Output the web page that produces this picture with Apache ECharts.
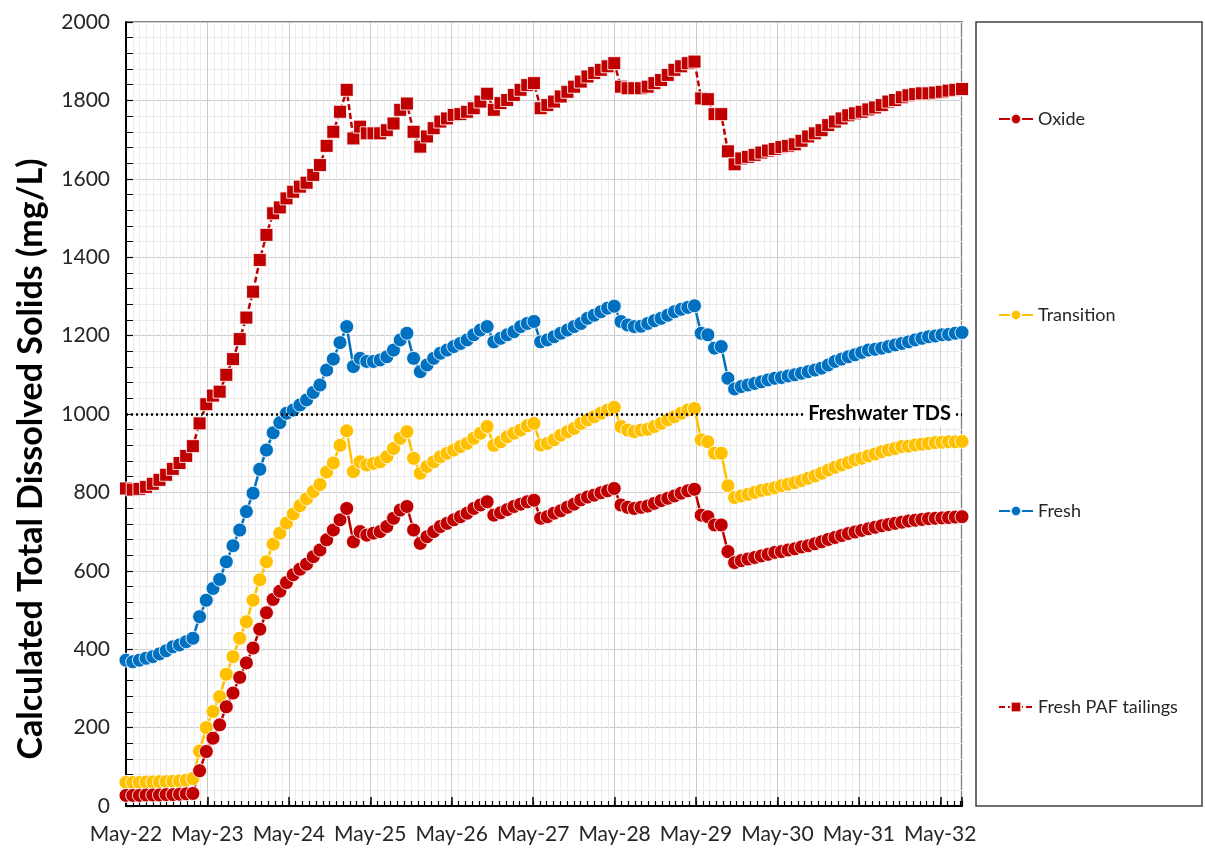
<!DOCTYPE html>
<html>
<head>
<meta charset="utf-8">
<script src="https://cdn.jsdelivr.net/npm/echarts@6/dist/echarts.min.js"></script>
<style>
html,body{margin:0;padding:0;background:#fff;}
#chart{width:1205px;height:854px;}
</style>
</head>
<body>
<div id="chart"></div>
<script>
// ---------------- data ----------------
const seriesNames = ['Oxide', 'Transition', 'Fresh', 'Fresh PAF tailings'];
const xTickLabels = ['May-22','May-23','May-24','May-25','May-26','May-27','May-28','May-29','May-30','May-31','May-32'];
const dayStep = 30;            // model output every 30 days, starting May-22
const freshwaterTDS = 1000;    // reference line (mg/L)

const oxide = [
  27,27,27,28,28,28,29,29,30,31,32,
  90,139,173,207,253,288,328,365,403,451,493,527,548,570,590,604,617,636,653,679,704,730,759,
  674,700,691,696,700,713,734,755,764,704,670,687,700,713,721,730,738,747,759,768,776,
  742,748,756,764,770,776,780,
  734,738,747,753,762,770,781,788,793,799,804,810,
  768,762,759,762,765,772,779,785,791,798,804,808,
  742,738,717,717,649,621,
  626,630,634,638,642,647,649,653,656,661,664,669,674,680,685,690,695,699,703,707,
  711,715,718,721,724,727,729,731,733,734,735,736,737,738
];
const transition = [
  60,60,60,61,61,62,62,63,64,66,70,
  140,200,241,279,336,381,428,470,525,577,623,668,696,722,745,766,784,802,820,852,875,920,957,
  853,878,870,874,878,891,912,938,955,887,849,866,878,891,900,908,917,925,938,951,968,
  920,929,942,951,959,970,976,
  921,925,934,946,955,963,976,985,993,1002,1010,1017,
  968,959,955,959,961,968,976,985,993,1002,1010,1014,
  934,929,900,900,817,787,
  791,795,800,805,808,812,817,821,825,830,836,842,849,857,864,870,876,883,887,893,
  898,904,908,912,917,918,921,923,925,927,928,929,929,930
];
const fresh = [
  372,368,372,377,381,388,396,406,411,419,428,
  483,525,555,578,623,664,704,751,798,859,908,952,978,1002,1010,1023,1036,1055,1074,1112,1140,1182,1223,
  1121,1142,1134,1134,1138,1146,1163,1189,1206,1142,1108,1125,1142,1155,1163,1172,1180,1189,1202,1214,1223,
  1184,1193,1202,1210,1223,1231,1236,
  1184,1189,1197,1206,1214,1223,1231,1244,1252,1261,1270,1275,
  1236,1227,1223,1224,1231,1238,1244,1252,1261,1267,1272,1276,
  1206,1202,1168,1172,1091,1064,
  1070,1074,1078,1082,1087,1091,1093,1097,1100,1104,1108,1112,1117,1125,1134,1140,1146,1151,1157,1163,
  1165,1168,1172,1176,1180,1184,1189,1193,1197,1199,1202,1203,1206,1208
];
const pafTailings = [
  810,807,809,814,822,832,845,860,875,893,918,
  976,1025,1047,1057,1100,1140,1191,1246,1312,1393,1457,1512,1527,1550,1567,1580,1590,1610,1635,1684,1720,1771,1827,
  1703,1733,1716,1716,1716,1724,1741,1776,1792,1720,1682,1708,1729,1746,1754,1763,1765,1771,1780,1797,1817,
  1776,1793,1801,1814,1827,1839,1844,
  1780,1788,1797,1810,1822,1835,1848,1861,1870,1878,1887,1895,
  1835,1831,1831,1831,1835,1844,1852,1865,1878,1887,1895,1899,
  1805,1803,1765,1765,1670,1637,
  1652,1656,1661,1667,1672,1676,1681,1684,1688,1697,1708,1716,1724,1737,1746,1754,1762,1767,1771,1777,
  1782,1788,1797,1801,1808,1813,1816,1818,1818,1820,1822,1825,1827,1829
];

// ---------------- build ----------------
const FONT = 'Lato, "Open Sans", "Noto Sans", sans-serif';
const MONTH = 365.25 / 12;
const days = oxide.map((_, i) => i * dayStep);
const pairs = arr => arr.map((v, i) => [days[i], v]);
const xMax = days[days.length - 1];

const monthLineColors = ['#cccccc'].concat(new Array(11).fill('#ebebeb'));

function lineSeries(name, data, color, symbol, size, dashed, z) {
  return {
    name: name, type: 'line', data: pairs(data),
    symbol: symbol, symbolSize: size, showSymbol: true, clip: false,
    itemStyle: { color: color, borderColor: 'rgba(255,255,255,0.85)', borderWidth: 1 },
    lineStyle: { color: color, width: 2.5, type: dashed ? [6, 3] : 'solid' },
    emphasis: { disabled: true },
    z: z, animation: false
  };
}

const chart = echarts.init(document.getElementById('chart'), null, { renderer: 'canvas' });
chart.setOption({
  animation: false,
  backgroundColor: '#ffffff',
  textStyle: { fontFamily: FONT },
  grid: { left: 126, right: 243, top: 22, bottom: 48, show: true, borderColor: '#595959', borderWidth: 1.5, outerBoundsMode: 'none' },
  legend: {
    data: seriesNames,
    orient: 'vertical', left: 993, top: 104,
    itemWidth: 34, itemHeight: 13, itemGap: 176,
    textStyle: { fontSize: 18, color: '#262626', fontFamily: FONT, lineHeight: 20 },
    selectedMode: false
  },
  graphic: [{
    type: 'rect', silent: true, z: -10,
    shape: { x: 976, y: 22, width: 226, height: 784 },
    style: { fill: 'none', stroke: '#404040', lineWidth: 1.5 }
  }],
  xAxis: [{
    type: 'value', min: 0, max: xMax, interval: MONTH,
    axisLine: { show: true, onZero: false, lineStyle: { color: '#000', width: 2 } },
    axisTick: { show: true, inside: true, length: 5, lineStyle: { color: '#000', width: 1.2 } },
    axisLabel: {
      fontSize: 21, color: '#262626', margin: 18, fontFamily: FONT,
      formatter: function (v) {
        const m = Math.round(v / MONTH);
        if (Math.abs(v - m * MONTH) > 0.5 || m % 12 !== 0) return '';
        return xTickLabels[m / 12] || '';
      }
    },
    splitLine: { show: true, lineStyle: { color: monthLineColors, width: 1 } }
  }, {
    type: 'value', min: 0, max: xMax, interval: 365.25, position: 'bottom',
    axisLine: { show: false },
    axisTick: { show: true, inside: true, length: 9, lineStyle: { color: '#000', width: 1.5 } },
    axisLabel: { show: false },
    splitLine: { show: false }
  }],
  yAxis: {
    type: 'value', min: 0, max: 2000, interval: 200,
    axisLine: { show: true, lineStyle: { color: '#000', width: 2 } },
    axisTick: { show: true, inside: true, length: 7, lineStyle: { color: '#000', width: 1.2 } },
    minorTick: { show: true, splitNumber: 5, length: 7, lineStyle: { color: '#000', width: 1 } },
    splitLine: { show: true, lineStyle: { color: '#cccccc', width: 1 } },
    minorSplitLine: { show: true, lineStyle: { color: '#ebebeb', width: 1 } },
    axisLabel: { fontSize: 21, color: '#262626', margin: 16, fontFamily: FONT, formatter: v => String(v) },
    name: 'Calculated Total Dissolved Solids (mg/L)',
    nameLocation: 'middle', nameGap: 78, nameRotate: 90,
    nameTextStyle: { fontSize: 34, fontWeight: 'bold', color: '#000', fontFamily: FONT, padding: [0, 90, 0, 0] }
  },
  series: [
    {
      name: 'refline', type: 'line', data: [], z: 1, silent: true,
      markLine: {
        silent: true, animation: false, symbol: ['none', 'none'],
        lineStyle: { color: '#000', type: [2, 3], width: 2.5 },
        label: {
          show: true, position: 'insideEnd', formatter: 'Freshwater TDS',
          fontSize: 20, fontWeight: 'bold', color: '#000', fontFamily: FONT,
          backgroundColor: '#fff', padding: [3, 4, 3, 4], distance: 7
        },
        emphasis: { disabled: true },
        data: [{ yAxis: freshwaterTDS }]
      }
    },
    lineSeries('Fresh PAF tailings', pafTailings, '#C00000', 'rect', 13, true, 3),
    lineSeries('Fresh', fresh, '#0070C0', 'circle', 14, false, 3),
    lineSeries('Transition', transition, '#FFC000', 'circle', 14, false, 3),
    lineSeries('Oxide', oxide, '#C00000', 'circle', 14, false, 3)
  ]
});
</script>
</body>
</html>
